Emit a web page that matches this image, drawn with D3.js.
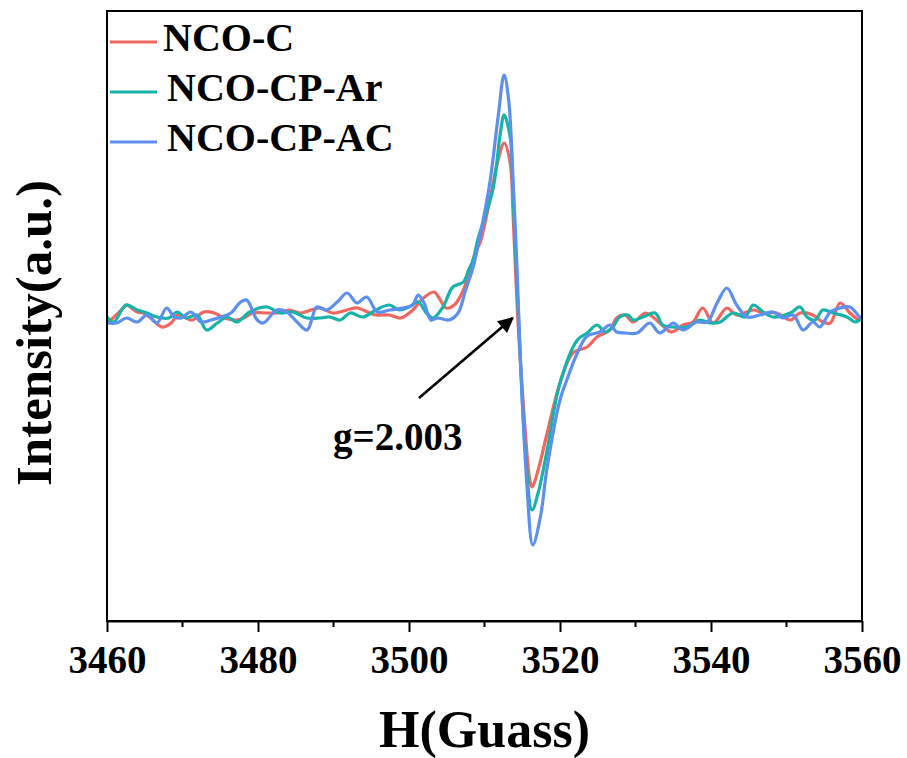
<!DOCTYPE html>
<html>
<head>
<meta charset="utf-8">
<script src="https://cdn.jsdelivr.net/npm/d3@7"></script>
<style>
  body { margin: 0; background: #fff; }
  text { font-family: "Liberation Serif", "Times New Roman", serif; font-weight: bold; fill: #000; }
</style>
</head>
<body>
<svg id="chart" width="907" height="758"></svg>
<script>
// EPR spectra, [field (G), intensity (a.u.)]
var ncoC = [[3460.0,-4],[3460.5,-2],[3462.3,11],[3462.6,13],[3464.0,6],[3464.8,5],[3465.8,0],[3467.3,-9],
  [3468.5,-5],[3469.3,3],[3470.2,1],[3471.3,-2],[3472.8,6],[3474.2,5],[3475.5,0],[3477.2,-2],[3478.1,0],
  [3479.3,5],[3481.2,5],[3482.5,5],[3484.2,8],[3485.6,5],[3488.2,10],[3489.9,5],[3491.8,8],[3493.1,10],
  [3494.8,5],[3495.6,3],[3497.4,3],[3498.9,0],[3500.5,8],[3501.9,20],[3503.3,26],[3504.0,20],[3504.9,10],
  [3506.0,13],[3507.2,28],[3508.2,51],[3508.9,68],[3509.4,75],[3510.7,118],[3511.8,158],[3512.6,175],
  [3513.4,155],[3513.8,101],[3514.4,1],[3515.1,-82],[3516.0,-162],[3516.3,-169],[3517.1,-152],[3518.3,-115],
  [3520.0,-65],[3521.7,-35],[3523.6,-29],[3524.9,-19],[3526.6,-12],[3527.5,0],[3528.6,3],[3529.7,-4],
  [3531.3,5],[3532.3,1],[3533.5,-7],[3534.8,-14],[3536.3,-7],[3537.6,-4],[3538.9,10],[3540.3,-5],
  [3542.1,10],[3543.4,3],[3545.6,8],[3546.9,5],[3548.7,5],[3550.5,-2],[3551.8,5],[3553.5,3],[3554.8,-4],
  [3555.8,-5],[3557.1,15],[3558.4,5],[3559.7,-2],[3560.0,0]];

var ncoCPAr = [[3460.0,1],[3460.9,-4],[3462.5,13],[3464.0,8],[3465.3,5],[3466.6,1],[3468.2,0],[3469.3,6],
  [3470.5,0],[3471.9,3],[3473.2,-12],[3474.6,-5],[3475.9,1],[3477.2,-4],[3478.9,6],[3481.2,11],[3482.9,5],
  [3484.6,6],[3486.5,0],[3488.2,0],[3489.5,1],[3490.9,-2],[3492.2,5],[3493.9,1],[3495.6,8],[3497.4,13],
  [3498.7,8],[3500.0,11],[3501.2,16],[3502.3,5],[3503.2,0],[3504.5,11],[3505.8,31],[3507.2,36],[3507.9,48],
  [3508.5,58],[3509.1,78],[3511.1,128],[3512.1,185],[3512.6,203],[3513.4,181],[3513.8,118],[3514.3,35],
  [3514.7,-32],[3515.4,-132],[3516.3,-192],[3517.1,-175],[3518.3,-132],[3520.0,-65],[3522.3,-22],
  [3523.6,-15],[3524.9,-7],[3526.0,-14],[3527.0,-9],[3527.9,1],[3529.0,3],[3529.7,-2],[3531.0,1],
  [3532.6,5],[3533.6,-7],[3535.0,-9],[3536.8,-9],[3538.5,-2],[3539.9,-5],[3541.2,-4],[3542.9,5],
  [3544.5,1],[3545.6,13],[3546.9,6],[3548.2,1],[3550.5,5],[3551.8,11],[3552.7,1],[3553.8,-2],[3554.8,8],
  [3556.2,5],[3558.0,1],[3559.1,-4],[3560.0,0]];

var ncoCPAC = [[3460.0,-5],[3461.3,-5],[3462.6,0],[3464.0,-4],[3465.3,3],[3466.6,-5],[3467.9,10],[3468.9,1],
  [3469.8,0],[3471.1,6],[3472.5,-4],[3473.8,-2],[3475.1,1],[3476.4,5],[3477.7,16],[3478.5,18],[3479.9,-2],
  [3480.7,-5],[3482.5,8],[3483.8,6],[3485.3,-5],[3486.5,-12],[3487.8,11],[3489.1,8],[3490.5,16],
  [3491.8,25],[3493.1,15],[3494.4,21],[3495.8,6],[3497.4,8],[3499.2,10],[3500.5,13],[3501.2,23],
  [3502.0,15],[3502.9,-2],[3503.8,0],[3505.3,-2],[3506.5,5],[3507.5,28],[3508.5,51],[3509.1,71],
  [3510.7,135],[3511.8,201],[3512.6,243],[3513.2,218],[3513.8,135],[3514.3,51],[3514.7,-32],[3515.6,-165],
  [3516.4,-227],[3517.4,-199],[3518.3,-149],[3520.0,-82],[3520.9,-62],[3522.3,-35],[3523.6,-18],
  [3525.3,-14],[3526.6,-7],[3527.5,-14],[3528.6,-15],[3530.2,-15],[3531.9,-5],[3533.2,-15],[3535.0,-5],
  [3536.3,-12],[3538.1,-4],[3539.5,-4],[3540.8,15],[3542.1,30],[3543.4,13],[3544.8,1],[3546.5,3],
  [3548.2,6],[3549.5,0],[3550.9,3],[3552.2,-12],[3553.5,-4],[3554.4,-9],[3555.8,6],[3557.1,10],
  [3558.4,11],[3559.7,1],[3560.0,0]];

var seriesNames = ["NCO-C", "NCO-CP-Ar", "NCO-CP-AC"];
var seriesColors = ["#f0675f", "#17b3a8", "#5c8ff0"];
var xTicks = [3460, 3480, 3500, 3520, 3540, 3560];
var xMinorTicks = [3470, 3490, 3510, 3530, 3550];
var gMarker = {label: "g=2.003", field: 3514.0, intensity: 0};

var svg = d3.select("#chart");
var margin = {left: 107, top: 11, right: 45, bottom: 137};
var W = 907, H = 758;

var x = d3.scaleLinear().domain([3460, 3560]).range([margin.left, W - margin.right]);
var y = d3.scaleLinear().domain([-303, 307]).range([H - margin.bottom, margin.top]);

svg.append("rect").attr("width", W).attr("height", H).attr("fill", "#fff");

svg.append("clipPath").attr("id", "plotclip")
  .append("rect")
  .attr("x", margin.left).attr("y", margin.top)
  .attr("width", x.range()[1] - margin.left)
  .attr("height", y.range()[0] - margin.top);

var line = d3.line()
  .x(function(d) { return x(d[0]); })
  .y(function(d) { return y(d[1]); })
  .curve(d3.curveCatmullRom.alpha(0.5));

var allSeries = [ncoC, ncoCPAr, ncoCPAC];
svg.append("g").attr("clip-path", "url(#plotclip)")
  .selectAll("path")
  .data(allSeries)
  .enter().append("path")
  .attr("d", line)
  .attr("fill", "none")
  .attr("stroke", function(d, i) { return seriesColors[i]; })
  .attr("stroke-width", 3.2)
  .attr("stroke-linejoin", "round");

// frame
svg.append("rect")
  .attr("x", margin.left).attr("y", margin.top)
  .attr("width", x.range()[1] - margin.left)
  .attr("height", y.range()[0] - margin.top)
  .attr("fill", "none").attr("stroke", "#000").attr("stroke-width", 2);

// bottom axis
var xAxis = svg.append("g")
  .attr("transform", "translate(0," + y.range()[0] + ")")
  .call(d3.axisBottom(x).tickValues(xTicks).tickFormat(d3.format("d"))
    .tickSize(11).tickSizeOuter(0).tickPadding(13));
xAxis.select(".domain").attr("stroke-width", 2);
xAxis.selectAll(".tick line").attr("stroke-width", 2);
xAxis.selectAll("text").attr("font-size", 39).attr("font-family", null).attr("fill", "#000");

svg.append("g")
  .attr("transform", "translate(0," + y.range()[0] + ")")
  .selectAll("line")
  .data(xMinorTicks)
  .enter().append("line")
  .attr("x1", function(d) { return x(d); })
  .attr("x2", function(d) { return x(d); })
  .attr("y1", 0).attr("y2", 6)
  .attr("stroke", "#000").attr("stroke-width", 2);

// axis titles
svg.append("text")
  .attr("x", (margin.left + x.range()[1]) / 2)
  .attr("y", 747)
  .attr("text-anchor", "middle")
  .attr("font-size", 52)
  .text("H(Guass)");

svg.append("text")
  .attr("transform", "translate(51,333) rotate(-90)")
  .attr("text-anchor", "middle")
  .attr("font-size", 51)
  .text("Intensity(a.u.)");

// legend
var legend = svg.append("g").selectAll("g")
  .data(seriesNames)
  .enter().append("g")
  .attr("transform", function(d, i) { return "translate(110," + (42 + i * 50) + ")"; });
legend.append("line")
  .attr("x1", 0).attr("x2", 47)
  .attr("stroke", function(d, i) { return seriesColors[i]; })
  .attr("stroke-width", 3.2);
legend.append("text")
  .attr("x", function(d, i) { return i === 0 ? 53 : 57; })
  .attr("y", 9)
  .attr("font-size", 40)
  .text(function(d) { return d; });

// g-value annotation
svg.append("defs").append("marker")
  .attr("id", "arrowhead")
  .attr("viewBox", "0 0 10 10")
  .attr("refX", 9).attr("refY", 5)
  .attr("markerWidth", 7).attr("markerHeight", 6)
  .attr("orient", "auto")
  .append("path").attr("d", "M0,0 L10,5 L0,10 z").attr("fill", "#000");

var tipX = x(gMarker.field) - 2, tipY = y(gMarker.intensity);
svg.append("line")
  .attr("x1", 419).attr("y1", 398)
  .attr("x2", tipX).attr("y2", tipY)
  .attr("stroke", "#000").attr("stroke-width", 2.6)
  .attr("marker-end", "url(#arrowhead)");

svg.append("text")
  .attr("x", 333).attr("y", 450)
  .attr("font-size", 39)
  .text(gMarker.label);
</script>
</body>
</html>
